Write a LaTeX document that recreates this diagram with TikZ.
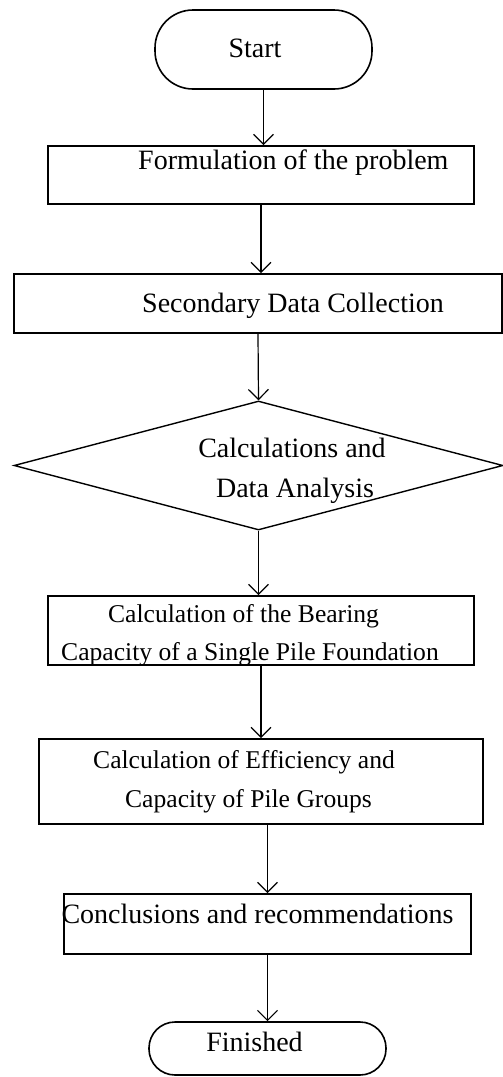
\documentclass[tikz,border=0pt]{standalone}
\usepackage{fontspec}
\setmainfont{Liberation Serif}[Ligatures=CommonOff]
\usetikzlibrary{arrows.meta,shapes.geometric}
\begin{document}
\begin{tikzpicture}[x=1pt,y=-1pt,
  box/.style={draw, line width=1.8pt, inner sep=0pt},
  term/.style={draw, line width=1.6pt, inner sep=0pt, rectangle},
  dia/.style={draw, line width=1.4pt, diamond, inner sep=0pt},
  big/.style={inner sep=0pt, anchor=base, font=\fontsize{28}{34}\selectfont},
  small/.style={inner sep=0pt, anchor=base, font=\fontsize{25.6}{31}\selectfont},
  arr/.style={line width=1.2pt, -{Straight Barb[length=10pt,width=20pt,line width=1.2pt]}}
]
\useasboundingbox (0,0) rectangle (503,1077);
\fill[white] (0,0) rectangle (503,1077);

% shapes
\node[term, rounded corners=38pt, minimum width=217pt, minimum height=79pt] (start) at (263.5,49.5) {};
\node[box, minimum width=426pt, minimum height=58pt] (b2) at (261,175) {};
\node[box, minimum width=488pt, minimum height=59pt] (b3) at (258,303.5) {};
\node[dia, minimum width=489pt, minimum height=129pt] (d) at (258.5,465.5) {};
\node[box, minimum width=426pt, minimum height=69pt] (b4) at (261,630.5) {};
\node[box, minimum width=444pt, minimum height=85pt] (b5) at (261,781.5) {};
\node[box, minimum width=407pt, minimum height=60pt] (b6) at (267.5,924) {};
\node[term, rounded corners=26pt, minimum width=237pt, minimum height=53pt] (fin) at (267.5,1048.5) {};

% texts
\node[big] (tstart) at (255,57) {Start};
\node[big, anchor=base west] (t2) at (138,169) {Formulation of the problem};
\node[big, anchor=base west] (t3) at (142,312) {Secondary Data Collection};
\node[big] (td1) at (292,457) {Calculations and};
\node[big] (td2) at (295,497) {Data Analysis};
\node[small] (t4a) at (243.5,622) {Calculation of the Bearing};
\node[small] (t4b) at (250,660) {Capacity of a Single Pile Foundation};
\node[small] (t5a) at (244,768) {Calculation of Efficiency and};
\node[small] (t5b) at (248.5,807) {Capacity of Pile Groups};
\node[big] (t6) at (257.5,923) {Conclusions and recommendations};
\node[big] (tfin) at (254.5,1051) {Finished};

% connectors
\draw[arr] (start.south) -- (start.south |- b2.north);
\draw[arr] (b2.south) -- (b2.south |- b3.north);
\draw[arr] (b3.south) -- (d.north);
\draw[arr] (d.south) -- (d.south |- b4.north);
\draw[arr] (b4.south) -- (b5.north);
\draw[arr] (b5.south -| b6.north) -- (b6.north);
\draw[arr] (b6.south) -- (fin.north);
\end{tikzpicture}
\end{document}
